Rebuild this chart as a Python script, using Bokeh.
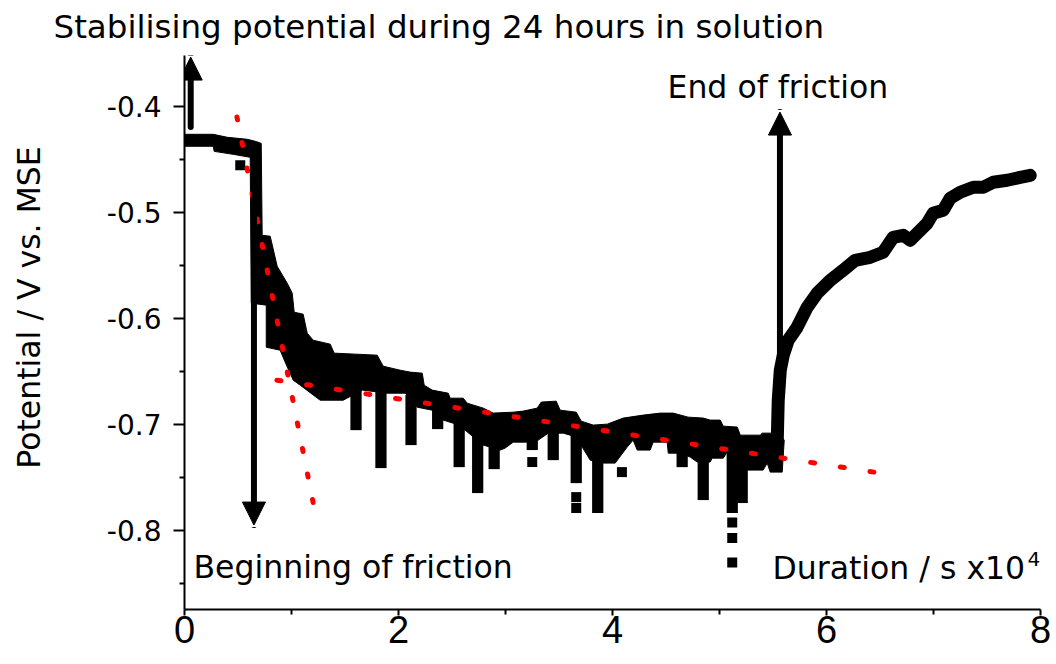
from bokeh.plotting import figure
from bokeh.models import Arrow, NormalHead, Label, FixedTicker, Range1d, PrintfTickFormatter
from bokeh.embed import file_html
from bokeh.resources import INLINE

# ---------------- data (duration in 1e4 s, potential in V vs. MSE) ----------------
# upper edge of the noisy measured band
up_t = [0.000, 0.268, 0.399, 0.586, 0.661, 0.717, 0.726, 0.801, 0.866, 0.960, 1.007, 1.025,
        1.109, 1.147, 1.203, 1.362, 1.399, 1.801, 1.857, 2.016, 2.109, 2.222, 2.240, 2.315,
        2.465, 2.483, 2.605, 2.642, 2.792, 2.885, 3.072, 3.166, 3.296, 3.334, 3.474, 3.511,
        3.661, 3.708, 3.820, 3.951, 4.100, 4.287, 4.446, 4.567, 4.707, 4.848, 4.913, 5.007,
        5.035, 5.166, 5.194, 5.380, 5.399, 5.549]
up_e = [-0.4264, -0.4264, -0.4292, -0.4311, -0.4330, -0.4349, -0.5217, -0.5226, -0.5509, -0.5670,
        -0.5764, -0.5943, -0.5962, -0.6142, -0.6208, -0.6245, -0.6330, -0.6349, -0.6453, -0.6491,
        -0.6509, -0.6519, -0.6632, -0.6679, -0.6708, -0.6755, -0.6755, -0.6802, -0.6849, -0.6896,
        -0.6887, -0.6877, -0.6849, -0.6792, -0.6783, -0.6868, -0.6887, -0.6972, -0.7009, -0.7000,
        -0.6943, -0.6915, -0.6896, -0.6896, -0.6934, -0.6943, -0.6962, -0.6962, -0.7019, -0.7028,
        -0.7104, -0.7104, -0.7085, -0.7085]
# lower edge of the band
lo_t = [0.000, 0.268, 0.278, 0.455, 0.614, 0.624, 0.764, 0.764, 0.894, 0.941, 1.016, 1.081,
        1.268, 1.483, 1.661, 1.894, 2.063, 2.175, 2.315, 2.418, 2.511, 2.623, 2.792, 2.951,
        2.997, 3.072, 3.203, 3.306, 3.399, 3.539, 3.605, 3.717, 3.792, 3.913, 4.025, 4.137,
        4.193, 4.231, 4.352, 4.380, 4.511, 4.521, 4.633, 4.726, 4.792, 4.913, 4.932, 5.035,
        5.072, 5.175, 5.408, 5.446, 5.474, 5.586, 5.605]
lo_e = [-0.4377, -0.4377, -0.4425, -0.4453, -0.4481, -0.5858, -0.5877, -0.6274, -0.6302, -0.6415,
        -0.6585, -0.6632, -0.6774, -0.6774, -0.6679, -0.6708, -0.6708, -0.6840, -0.6868, -0.6962,
        -0.6991, -0.7057, -0.7198, -0.7245, -0.7226, -0.7170, -0.7170, -0.7151, -0.7085, -0.7085,
        -0.7104, -0.7217, -0.7340, -0.7368, -0.7368, -0.7217, -0.7151, -0.7245, -0.7245, -0.7170,
        -0.7170, -0.7274, -0.7274, -0.7311, -0.7358, -0.7358, -0.7321, -0.7321, -0.7264, -0.7434,
        -0.7434, -0.7368, -0.7453, -0.7453, -0.7151]
# downward spikes
spike_t = [1.603, 1.836, 2.117, 2.366, 2.567, 2.740, 2.894, 3.250, 3.446, 3.661, 3.862,
           4.651, 4.848, 5.119, 5.212]
spike_top = [-0.6679, -0.6679, -0.6726, -0.6849, -0.6962, -0.7057, -0.7151, -0.7132, -0.7057,
             -0.7057, -0.7292, -0.7226, -0.7321, -0.7245, -0.7387]
spike_bottom = [-0.7057, -0.7415, -0.7198, -0.7047, -0.7406, -0.7651, -0.7425, -0.7245, -0.7340,
                -0.7557, -0.7840, -0.7406, -0.7717, -0.7840, -0.7745]
# isolated points
sq_t = [0.521, 3.250, 3.661, 3.661, 4.088, 5.119, 5.119, 5.119]
sq_e = [-0.4557, -0.7358, -0.7689, -0.7792, -0.7453, -0.7929, -0.8075, -0.8307]
# recovery after end of friction
rec_t = [5.540, 5.549, 5.568, 5.596, 5.642, 5.726, 5.820, 5.913, 6.035, 6.156, 6.268, 6.409,
         6.530, 6.623, 6.717, 6.783, 6.848, 6.941, 6.997, 7.091, 7.156, 7.250, 7.372, 7.465,
         7.558, 7.689, 7.810, 7.904]
rec_e = [-0.7150, -0.6774, -0.6491, -0.6349, -0.6208, -0.6085, -0.5896, -0.5764, -0.5642, -0.5547,
         -0.5453, -0.5425, -0.5377, -0.5236, -0.5217, -0.5264, -0.5198, -0.5104, -0.5009, -0.4981,
         -0.4868, -0.4811, -0.4764, -0.4764, -0.4717, -0.4698, -0.4670, -0.4651]
# red dotted guide lines
fit1_t = [0.490, 1.206]
fit1_e = [-0.410, -0.776]
fit2_t = [0.864, 6.460]
fit2_e = [-0.6585, -0.7456]

x_ticks = [0, 2, 4, 6, 8]
x_minor = [1, 3, 5, 7]
y_ticks = [-0.8, -0.7, -0.6, -0.5, -0.4]
y_minor = [-0.85, -0.75, -0.65, -0.55, -0.45]

FONT = "DejaVu Sans"
NB = "\u00a0"

# ---------------- figure ----------------
p = figure(width=1056, height=664, output_backend="svg", toolbar_location=None,
           title="Stabilising potential during 24 hours in solution",
           x_range=Range1d(0, 8), y_range=Range1d(-0.875, -0.352),
           min_border_left=184, min_border_right=16, min_border_top=55, min_border_bottom=55)
p.title.align = "left"
p.title.offset = -131
p.title.text_font = FONT
p.title.text_font_size = "32.5px"
p.title.text_font_style = "normal"
p.title.text_color = "black"
p.title.vertical_align = "top"
p.title.standoff = 15

p.xgrid.visible = False
p.ygrid.visible = False
p.outline_line_color = None
p.background_fill_color = "white"
p.border_fill_color = "white"

p.xaxis.ticker = FixedTicker(ticks=x_ticks, minor_ticks=x_minor)
p.yaxis.ticker = FixedTicker(ticks=y_ticks, minor_ticks=y_minor)
p.xaxis.formatter = PrintfTickFormatter(format="%d")
p.yaxis.formatter = PrintfTickFormatter(format="%.1f")
for ax in (p.xaxis[0], p.yaxis[0]):
    ax.axis_line_width = 2
    ax.axis_line_color = "black"
    ax.major_tick_line_width = 2
    ax.minor_tick_line_width = 2
    ax.major_tick_line_color = "black"
    ax.minor_tick_line_color = "black"
    ax.major_tick_in = 0
    ax.minor_tick_in = 0
    ax.major_label_text_color = "black"
p.xaxis.major_tick_out = 6
p.xaxis.minor_tick_out = 5
p.xaxis.major_label_standoff = 0
p.xaxis.major_label_text_font = "Liberation Sans"
p.xaxis.major_label_text_font_size = "38px"
p.yaxis.major_tick_out = 11
p.yaxis.minor_tick_out = 5
p.yaxis.major_label_standoff = 12
p.yaxis.major_label_text_font = FONT
p.yaxis.major_label_text_font_size = "28px"
p.yaxis.axis_label = NB * 5 + "Potential / V vs. MSE"
p.yaxis.axis_label_text_font = FONT
p.yaxis.axis_label_text_font_size = "31.5px"
p.yaxis.axis_label_text_font_style = "normal"
p.yaxis.axis_label_text_color = "black"
p.yaxis.axis_label_standoff = 57

# ---------------- data marks ----------------
band_x = up_t + lo_t[::-1]
band_y = up_e + lo_e[::-1]
p.patch(band_x, band_y, fill_color="black", line_color="black", line_width=1)
p.vbar(x=spike_t, width=0.105, top=spike_top, bottom=spike_bottom,
       fill_color="black", line_color=None)
p.scatter(sq_t, sq_e, marker="square", size=10, fill_color="black", line_color=None)
p.line(rec_t, rec_e, line_color="black", line_width=13, line_join="round", line_cap="round")

p.line(fit1_t, fit1_e, line_color="#ff0000", line_width=5, line_dash="3 23", line_cap="round")
p.line(fit2_t, fit2_e, line_color="#ff0000", line_width=5, line_dash="4 26", line_cap="round")

# ---------------- arrows ----------------
def arrow(x, y0, y1):
    p.add_layout(Arrow(x_start=x, y_start=y0, x_end=x, y_end=y1, line_width=6,
                       line_color="black", line_cap="round",
                       end=NormalHead(size=23, fill_color="black", line_color="black",
                                      line_width=1)))

arrow(0.058, -0.4195, -0.3535)
arrow(0.649, -0.440, -0.7953)
arrow(5.565, -0.710, -0.4054)

# ---------------- texts inside the frame ----------------
def label(txt, x, y, size="31.5px"):
    p.add_layout(Label(x=x, y=y, x_units="screen", y_units="screen", text=txt,
                       text_font=FONT, text_font_size=size, text_color="black",
                       text_align="left", text_baseline="alphabetic"))

label("End of friction", 483, 523)
label("Beginning of friction", 9, 43)
label("Duration / s x10", 588, 42)
label("4", 843, 51, size="20px")

open("out.html", "w").write(file_html(p, INLINE))
